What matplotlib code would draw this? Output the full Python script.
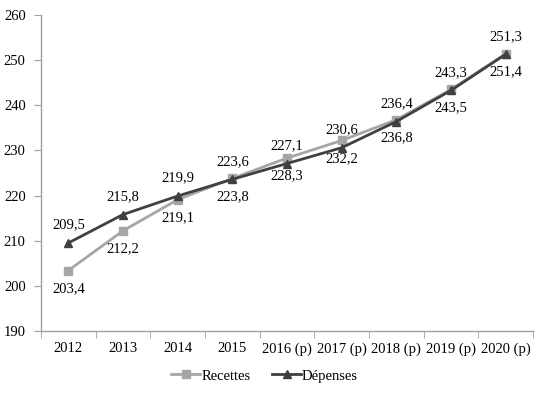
import matplotlib
matplotlib.use("Agg")
import matplotlib.pyplot as plt
from matplotlib.lines import Line2D

categories = ["2012", "2013", "2014", "2015", "2016 (p)", "2017 (p)", "2018 (p)", "2019 (p)", "2020 (p)"]
recettes = [203.4, 212.2, 219.1, 223.8, 228.3, 232.2, 236.8, 243.5, 251.4]
depenses = [209.5, 215.8, 219.9, 223.6, 227.1, 230.6, 236.4, 243.3, 251.3]
yticks = [190, 200, 210, 220, 230, 240, 250, 260]

def fmt(v):
    return f"{v:.1f}".replace(".", ",")

plt.rcParams['font.family'] = ['Liberation Serif', 'DejaVu Serif']
plt.rcParams['font.size'] = 10

fig = plt.figure(figsize=(5.49, 3.98), dpi=100)
ax = fig.add_axes([41/549, 1-331/398, (533-41)/549, (331-15)/398])

c_rec = "#A6A6A6"
c_dep = "#404040"
x = list(range(len(categories)))

ax.plot(x, recettes, color=c_rec, lw=2.0, marker="s", ms=5.5, zorder=3)
ax.plot(x, depenses, color=c_dep, lw=2.0, marker="^", ms=5.5, zorder=4)

for xi, v in zip(x, depenses):
    ax.annotate(fmt(v), (xi, v), xytext=(0, 13), textcoords="offset points",
                ha="center", va="center", fontsize=10.5, color="black")
for xi, v in zip(x, recettes):
    ax.annotate(fmt(v), (xi, v), xytext=(0, -13), textcoords="offset points",
                ha="center", va="center", fontsize=10.5, color="black")

ax.set_xlim(-0.5, len(categories) - 0.5)
ax.set_ylim(190, 260)
ax.set_yticks(yticks)
ax.set_xticks(x)
ax.set_xticklabels(categories, fontsize=10.5)
ax.set_xticks([i - 0.5 for i in range(len(categories) + 1)], minor=True)
ax.tick_params(axis="x", which="major", length=0, pad=8)
ax.tick_params(axis="x", which="minor", length=5, color="#A0A0A0", direction="out")
ax.tick_params(axis="y", length=5, color="#A0A0A0", direction="out", pad=6, labelsize=10.5)

for s in ["top", "right"]:
    ax.spines[s].set_visible(False)
for s in ["left", "bottom"]:
    ax.spines[s].set_color("#A0A0A0")
    ax.spines[s].set_linewidth(1.0)

handles = [
    Line2D([], [], color=c_rec, lw=2.0, marker="s", ms=5.5),
    Line2D([], [], color=c_dep, lw=2.0, marker="^", ms=5.5),
]
fig.legend(handles, ["Recettes", "Dépenses"], loc="center", bbox_to_anchor=(0.482, 1-376/398),
           ncol=2, frameon=False, handlelength=2.0, handletextpad=0.05, columnspacing=1.5,
           fontsize=10.5)

fig.savefig("out.png", dpi=100)
